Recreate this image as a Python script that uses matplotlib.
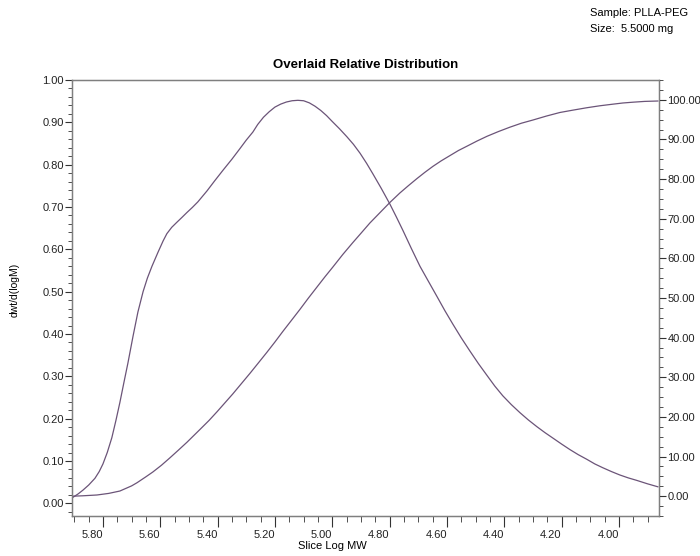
import matplotlib
matplotlib.use('Agg')
import matplotlib.pyplot as plt
from matplotlib.ticker import MultipleLocator, FormatStrFormatter

plt.rcParams['font.family'] = ['Liberation Sans', 'DejaVu Sans']

# Relative distribution dwt/d(logM) vs slice log MW
dist_logmw = [5.905, 5.887, 5.870, 5.850, 5.828, 5.813, 5.800, 5.785, 5.769, 5.755,
              5.741, 5.727, 5.713, 5.695, 5.678, 5.660, 5.645, 5.629, 5.608, 5.590,
              5.577, 5.560, 5.542, 5.525, 5.507, 5.488, 5.469, 5.437, 5.410, 5.381,
              5.350, 5.322, 5.300, 5.277, 5.260, 5.240, 5.220, 5.200, 5.180, 5.160,
              5.140, 5.120, 5.100, 5.080, 5.060, 5.040, 5.020, 5.000, 4.975, 4.949,
              4.926, 4.903, 4.880, 4.858, 4.829, 4.799, 4.776, 4.753, 4.724, 4.694,
              4.665, 4.635, 4.607, 4.579, 4.550, 4.520, 4.490, 4.460, 4.433, 4.405,
              4.375, 4.345, 4.316, 4.286, 4.258, 4.230, 4.200, 4.171, 4.142, 4.112,
              4.084, 4.056, 4.026, 3.997, 3.967, 3.937, 3.900, 3.864]
dist_vals = [0.014, 0.022, 0.031, 0.043, 0.059, 0.075, 0.093, 0.120, 0.155, 0.195,
             0.238, 0.285, 0.331, 0.395, 0.452, 0.500, 0.532, 0.560, 0.593, 0.620,
             0.637, 0.652, 0.664, 0.675, 0.687, 0.699, 0.712, 0.738, 0.762, 0.787,
             0.813, 0.838, 0.858, 0.877, 0.895, 0.912, 0.925, 0.936, 0.943, 0.948,
             0.951, 0.952, 0.951, 0.946, 0.938, 0.928, 0.916, 0.902, 0.885, 0.866,
             0.848, 0.827, 0.803, 0.778, 0.744, 0.707, 0.676, 0.644, 0.602, 0.560,
             0.525, 0.489, 0.455, 0.423, 0.391, 0.360, 0.330, 0.302, 0.277, 0.254,
             0.233, 0.214, 0.197, 0.181, 0.167, 0.154, 0.140, 0.127, 0.115, 0.104,
             0.093, 0.084, 0.075, 0.067, 0.060, 0.054, 0.046, 0.039]

# Cumulative distribution (%)
cum_logmw = [5.905, 5.870, 5.821, 5.780, 5.741, 5.700, 5.681, 5.650, 5.626, 5.596,
             5.566, 5.537, 5.507, 5.462, 5.430, 5.402, 5.347, 5.287, 5.258, 5.228,
             5.200, 5.172, 5.143, 5.113, 5.083, 5.054, 5.026, 4.998, 4.963, 4.928,
             4.899, 4.869, 4.834, 4.799, 4.764, 4.735, 4.705, 4.677, 4.649, 4.620,
             4.590, 4.560, 4.530, 4.495, 4.460, 4.420, 4.380, 4.340, 4.300, 4.253,
             4.206, 4.160, 4.112, 4.066, 4.021, 3.986, 3.951, 3.910, 3.864]
cum_vals = [0.0, 0.1, 0.3, 0.7, 1.3, 2.6, 3.4, 4.9, 6.1, 7.8,
            9.7, 11.6, 13.6, 16.8, 19.1, 21.3, 25.8, 31.0, 33.6, 36.3,
            38.9, 41.6, 44.3, 47.1, 50.0, 52.7, 55.3, 57.8, 61.0, 64.0,
            66.4, 68.9, 71.5, 74.1, 76.5, 78.3, 80.1, 81.7, 83.2, 84.6,
            85.9, 87.2, 88.3, 89.6, 90.8, 92.0, 93.1, 94.1, 94.9, 95.9,
            96.8, 97.4, 98.0, 98.5, 98.9, 99.2, 99.4, 99.6, 99.7]

line_color = '#6b5478'
spine_color = '#7f7f7f'

fig = plt.figure(figsize=(7, 5.56), dpi=100)
W, H = 700, 556
ax = fig.add_axes([72 / W, 1 - 516 / H, (659 - 72) / W, (516 - 80) / H])

ax.plot(dist_logmw, dist_vals, color=line_color, lw=0.9)
ax.set_xlim(5.908, 3.86)
ax.set_ylim(-0.03, 1.0)

ax.xaxis.set_major_locator(MultipleLocator(0.2))
ax.xaxis.set_minor_locator(MultipleLocator(0.05))
ax.xaxis.set_major_formatter(FormatStrFormatter('%.2f'))
ax.yaxis.set_major_locator(MultipleLocator(0.1))
ax.yaxis.set_minor_locator(MultipleLocator(0.02))
ax.yaxis.set_major_formatter(FormatStrFormatter('%.2f'))

for s in ax.spines.values():
    s.set_color(spine_color)
    s.set_linewidth(1.0)

ax.tick_params(axis='both', which='major', labelsize=8, color='#333333',
               labelcolor='#222222', direction='out')
ax.tick_params(axis='y', which='major', length=5, pad=1)
ax.tick_params(axis='y', which='minor', length=3, color='#333333')
ax.tick_params(axis='x', which='major', length=8, pad=2)
ax.tick_params(axis='x', which='minor', length=4, color='#333333')
for lbl in ax.get_xticklabels():
    lbl.set_horizontalalignment('right')

ax2 = ax.twinx()
ax2.plot(cum_logmw, cum_vals, color=line_color, lw=0.9)
ax2.set_ylim(-5, 105)
ax2.yaxis.set_major_locator(MultipleLocator(10))
ax2.yaxis.set_minor_locator(MultipleLocator(2.5))
ax2.yaxis.set_major_formatter(FormatStrFormatter('%.2f'))
for s in ax2.spines.values():
    s.set_color(spine_color)
ax2.tick_params(axis='y', which='major', labelsize=8, length=5, pad=1,
                color='#333333', labelcolor='#222222', direction='out')
ax2.tick_params(axis='y', which='minor', length=3, color='#333333', direction='out')

ax.set_title('Overlaid Relative Distribution', fontsize=9.5, fontweight='bold', pad=9)
ax.set_ylabel('dwt/d(logM)', fontsize=7.5)
ax.yaxis.set_label_coords(-0.09, 0.518)
ax.set_xlabel('Slice Log MW', fontsize=8)
ax.xaxis.set_label_coords((332 - 72) / (659 - 72), -0.058)

fig.text(590 / W, 1 - 13 / H, 'Sample: PLLA-PEG', fontsize=8, va='center', ha='left')
fig.text(590 / W, 1 - 29 / H, 'Size:  5.5000 mg', fontsize=8, va='center', ha='left')

fig.savefig('out.png', dpi=100)
